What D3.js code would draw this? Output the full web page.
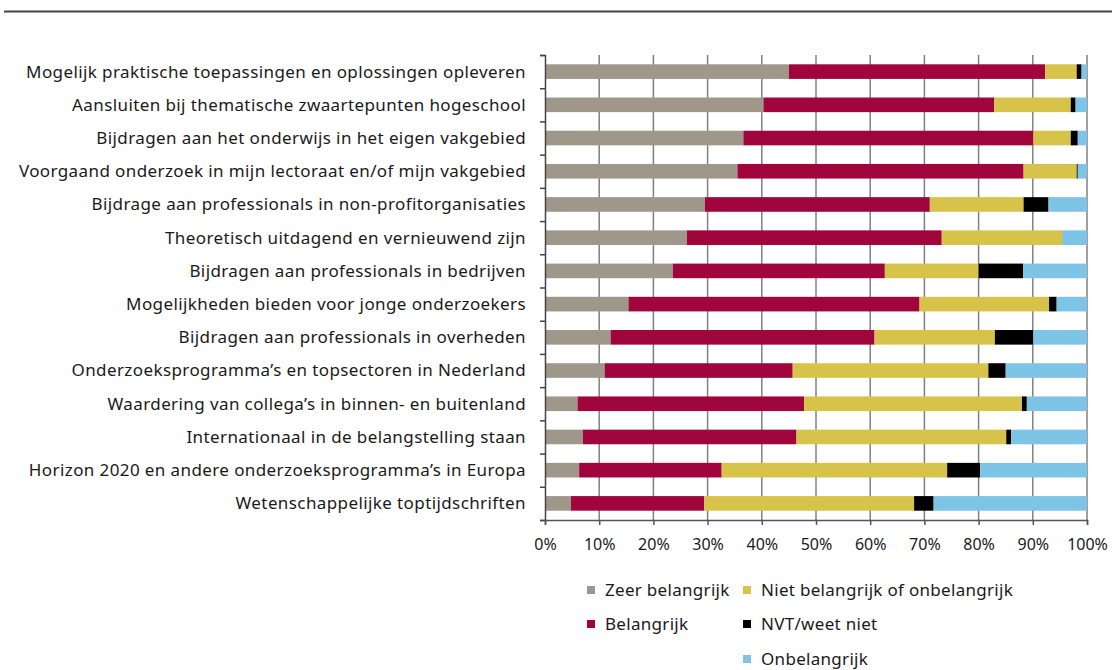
<!DOCTYPE html>
<html>
<head>
<meta charset="utf-8">
<script src="https://cdn.jsdelivr.net/npm/d3@7"></script>
<style>
  body { margin: 0; background: #fff; }
  svg text { font-family: "Noto Sans", sans-serif; fill: #1a1a1a; }
</style>
</head>
<body>
<svg width="1112" height="670"></svg>
<script>
var categories = [
	"Mogelijk praktische toepassingen en oplossingen opleveren",
	"Aansluiten bij thematische zwaartepunten hogeschool",
	"Bijdragen aan het onderwijs in het eigen vakgebied",
	"Voorgaand onderzoek in mijn lectoraat en/of mijn vakgebied",
	"Bijdrage aan professionals in non-profitorganisaties",
	"Theoretisch uitdagend en vernieuwend zijn",
	"Bijdragen aan professionals in bedrijven",
	"Mogelijkheden bieden voor jonge onderzoekers",
	"Bijdragen aan professionals in overheden",
	"Onderzoeksprogramma\u2019s en topsectoren in Nederland",
	"Waardering van collega\u2019s in binnen- en buitenland",
	"Internationaal in de belangstelling staan",
	"Horizon 2020 en andere onderzoeksprogramma\u2019s in Europa",
	"Wetenschappelijke toptijdschriften"
];
var seriesNames = ["Zeer belangrijk", "Belangrijk", "Niet belangrijk of onbelangrijk", "NVT/weet niet", "Onbelangrijk"];
var zeerBelangrijk = [45.0, 40.3, 36.6, 35.5, 29.5, 26.2, 23.6, 15.4, 12.1, 11.0, 6.0, 7.0, 6.3, 4.8];
var belangrijk     = [47.3, 42.6, 53.5, 52.8, 41.5, 47.0, 39.1, 53.7, 48.7, 34.7, 41.8, 39.4, 26.3, 24.6];
var nietBelangrijk = [5.8, 14.1, 6.9, 9.8, 17.3, 22.2, 17.3, 23.9, 22.2, 36.1, 40.2, 38.7, 41.6, 38.7];
var nvt            = [0.9, 0.9, 1.3, 0.2, 4.6, 0.0, 8.2, 1.4, 7.1, 3.2, 0.9, 0.9, 6.1, 3.6];
var onbelangrijk   = [1.0, 2.1, 1.7, 1.7, 7.1, 4.6, 11.8, 5.6, 9.9, 15.0, 11.1, 14.0, 19.7, 28.3];
var tickValues = [0, 10, 20, 30, 40, 50, 60, 70, 80, 90, 100];
var colors = ["#9e978a", "#a0053c", "#d8c34a", "#000000", "#7ec4e6"];

var svg = d3.select("svg");

// top rule
svg.append("line")
	.attr("x1", 4).attr("x2", 1112)
	.attr("y1", 11.5).attr("y2", 11.5)
	.attr("stroke", "#444").attr("stroke-width", 2);

var rows = categories.map(function(c, i) {
	var r = { cat: c };
	r[seriesNames[0]] = zeerBelangrijk[i];
	r[seriesNames[1]] = belangrijk[i];
	r[seriesNames[2]] = nietBelangrijk[i];
	r[seriesNames[3]] = nvt[i];
	r[seriesNames[4]] = onbelangrijk[i];
	return r;
});

var x = d3.scaleLinear().domain([0, 100]).range([545, 1087]);
var y = d3.scaleBand().domain(categories).range([55, 520]).paddingInner(0.56).paddingOuter(0.28);
var yIdx = d3.scaleLinear().domain([0, categories.length]).range([55, 520]);

// gridlines
svg.append("g").selectAll("line")
	.data(tickValues.slice(1))
	.enter().append("line")
	.attr("x1", function(d) { return x(d); })
	.attr("x2", function(d) { return x(d); })
	.attr("y1", 55).attr("y2", 520)
	.attr("stroke", "#808080").attr("stroke-width", 1.5);

// bars
var stacked = d3.stack().keys(seriesNames)(rows);
svg.append("g").selectAll("g")
	.data(stacked)
	.enter().append("g")
	.attr("fill", function(d, i) { return colors[i]; })
	.selectAll("rect")
	.data(function(d) { return d; })
	.enter().append("rect")
	.attr("x", function(d) { return x(d[0]); })
	.attr("width", function(d) { return x(d[1]) - x(d[0]); })
	.attr("y", function(d) { return y(d.data.cat); })
	.attr("height", y.bandwidth());

// left axis
var left = svg.append("g")
	.attr("transform", "translate(545,0)")
	.call(d3.axisLeft(yIdx).tickValues(d3.range(categories.length + 1)).tickSize(5).tickFormat(""));
left.select(".domain").attr("stroke", "#444").attr("stroke-width", 1.5);
left.selectAll(".tick line").attr("stroke", "#444").attr("stroke-width", 1.5);

// category labels
svg.append("g").selectAll("text")
	.data(categories)
	.enter().append("text")
	.attr("x", 526)
	.attr("y", function(d) { return y(d) + y.bandwidth() / 2; })
	.attr("dy", "0.35em")
	.attr("text-anchor", "end")
	.style("font-size", "17px")
	.style("letter-spacing", "0.4px")
	.text(function(d) { return d; });

// bottom axis
var bottom = svg.append("g")
	.attr("transform", "translate(0,520)")
	.call(d3.axisBottom(x).tickValues(tickValues).tickSize(5).tickPadding(14)
		.tickFormat(function(d) { return d + "%"; }));
bottom.select(".domain").attr("stroke", "#555").attr("stroke-width", 1.5);
bottom.selectAll(".tick line").attr("stroke", "#555").attr("stroke-width", 1.5);
bottom.selectAll(".tick text").style("font-size", "16px").style("font-family", "'Noto Sans', sans-serif").attr("fill", "#1a1a1a");

// legend
var legendPos = [[587, 590], [587, 624], [743, 590], [743, 624], [743, 659]];
var legendOrder = [0, 1, 2, 3, 4];
var leg = svg.append("g").selectAll("g")
	.data(legendOrder)
	.enter().append("g")
	.attr("transform", function(d, i) { return "translate(" + legendPos[i][0] + "," + legendPos[i][1] + ")"; });
leg.append("rect")
	.attr("x", 0).attr("y", -4).attr("width", 8).attr("height", 8)
	.attr("fill", function(d) { return colors[d]; });
leg.append("text")
	.attr("x", 18).attr("dy", "0.35em")
	.style("font-size", "17px")
	.style("letter-spacing", "0.3px")
	.text(function(d) { return seriesNames[d]; });
</script>
</body>
</html>
